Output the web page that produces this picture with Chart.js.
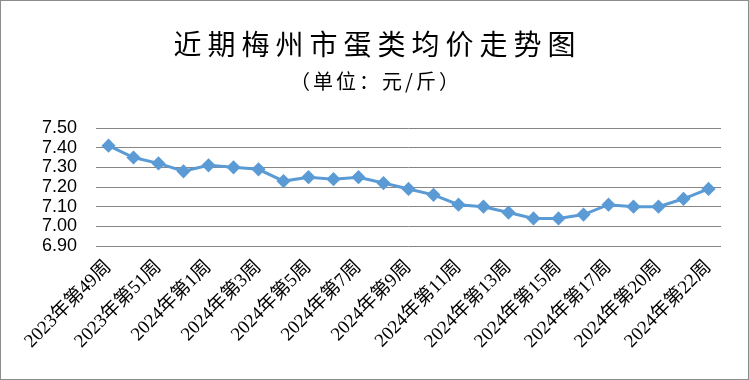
<!DOCTYPE html>
<html>
<head>
<meta charset="utf-8">
<script src="https://cdn.jsdelivr.net/npm/chart.js@4.4.0/dist/chart.umd.min.js"></script>
<style>
    body { margin: 0; background: #fff; }
    #wrap { position: relative; width: 749px; height: 380px; }
    #frame { position: absolute; left: 0; top: 0; width: 747px; height: 378px; border: 1px solid #8c8c8c; pointer-events: none; }
    .titre { position: absolute; left: 0; width: 749px; text-align: center; font-family: "Noto Sans CJK SC", sans-serif; color: #000; }
    #titre1 { top: 28px; font-size: 28px; line-height: 30px; letter-spacing: 6px; text-indent: 6px; }
    #titre2 { top: 70px; font-size: 20px; line-height: 22px; letter-spacing: 3px; text-indent: 3px; }
</style>
</head>
<body>
<div id="wrap">
    <canvas id="prixOeufsChart" width="749" height="380"></canvas>
    <div class="titre" id="titre1">近期梅州市蛋类均价走势图</div>
    <div class="titre" id="titre2">（单位：元/斤）</div>
    <div id="frame"></div>
</div>
<script>
// semaines affichees sur l'axe x
const semaines = [
    '2023年第49周', '2023年第50周', '2023年第51周', '2023年第52周',
    '2024年第1周', '2024年第2周', '2024年第3周', '2024年第4周',
    '2024年第5周', '2024年第6周', '2024年第7周', '2024年第8周',
    '2024年第9周', '2024年第10周', '2024年第11周', '2024年第12周',
    '2024年第13周', '2024年第14周', '2024年第15周', '2024年第16周',
    '2024年第17周', '2024年第18周', '2024年第20周', '2024年第21周',
    '2024年第22周'
];

// prix moyen (元/斤)
const prixMoyen = [
    7.41, 7.35, 7.32, 7.28, 7.31, 7.30, 7.29, 7.23, 7.25, 7.24,
    7.25, 7.22, 7.19, 7.16, 7.11, 7.10, 7.07, 7.04, 7.04, 7.06,
    7.11, 7.10, 7.10, 7.14, 7.19
];

// bornes de l'axe y
const yMin = 6.90;
const yMax = 7.50;
const yPas = 0.10;

document.addEventListener('DOMContentLoaded', function() {
    const ctx = document.getElementById('prixOeufsChart');

    new Chart(ctx.getContext('2d'), {
        type: 'line',
        data: {
            labels: semaines,
            datasets: [{
                data: prixMoyen,
                borderColor: '#5B9BD5',
                backgroundColor: '#5B9BD5',
                borderWidth: 3,
                pointStyle: 'rectRot',
                pointRadius: 5,
                pointHoverRadius: 5,
                pointBackgroundColor: '#5B9BD5',
                pointBorderColor: '#5B9BD5',
                tension: 0
            }]
        },
        options: {
            responsive: false,
            animation: false,
            layout: {
                padding: { top: 128, right: 28, bottom: 0, left: 0 }
            },
            plugins: {
                legend: { display: false },
                tooltip: { enabled: false }
            },
            scales: {
                x: {
                    offset: true,
                    grid: { display: false, drawTicks: false },
                    border: { display: false },
                    ticks: {
                        autoSkip: false,
                        minRotation: 45,
                        maxRotation: 45,
                        padding: 10,
                        color: '#000',
                        font: { family: '"Liberation Serif", "Noto Sans CJK SC"', size: 19 },
                        callback: function(val, index) {
                            // une etiquette sur deux
                            return index % 2 === 0 ? this.getLabelForValue(val) : '';
                        }
                    },
                    afterFit: function(scale) {
                        scale.height = 134;
                    }
                },
                y: {
                    min: yMin,
                    max: yMax,
                    grid: { color: '#868686', lineWidth: 1, drawTicks: false },
                    border: { display: false },
                    ticks: {
                        autoSkip: false,
                        stepSize: yPas,
                        padding: 19,
                        color: '#000',
                        font: { family: '"Liberation Sans"', size: 18 },
                        callback: function(val) {
                            return val.toFixed(2);
                        }
                    },
                    afterFit: function(scale) {
                        scale.width = 96;
                    }
                }
            }
        }
    });
});
</script>
</body>
</html>
